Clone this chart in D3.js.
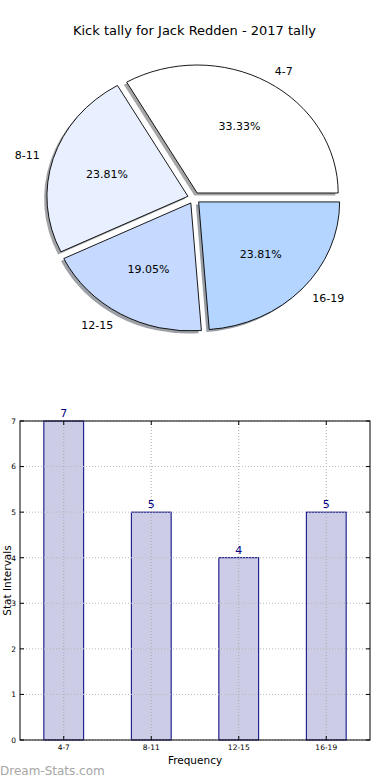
<!DOCTYPE html>
<html><head><meta charset="utf-8">
<script src="https://cdn.jsdelivr.net/npm/d3@7"></script>
<style>body{margin:0;background:#fff}svg{display:block}text{font-family:"DejaVu Sans",sans-serif}</style>
</head><body><svg id="c" width="390" height="780"></svg>
<script>
const categories = ["4-7", "8-11", "12-15", "16-19"];
const values = [7, 5, 4, 5];
const pieColors = ["#ffffff", "#e8f0ff", "#c6d9ff", "#b3d5ff"];
const yTicks = [0, 1, 2, 3, 4, 5, 6, 7];
const title = "Kick tally for Jack Redden - 2017 tally";

const svg = d3.select("#c");
svg.append("rect").attr("width", 390).attr("height", 780).attr("fill", "#fff");

svg.append("text").attr("x", 194.5).attr("y", 35).attr("text-anchor", "middle")
  .attr("font-size", 13).attr("fill", "#000").text(title);

// ---------- Pie ----------
const cx = 194, cy = 198, rx = 141, ry = 128, explode = 0.045;
const total = d3.sum(values);
const pie = d3.pie().sort(null).startAngle(Math.PI / 2).endAngle(Math.PI / 2 - 2 * Math.PI);
const arcs = pie(values);
const arcGen = d3.arc().innerRadius(0).outerRadius(1);

function off(a, f) { return [Math.sin(a) * rx * f, -Math.cos(a) * ry * f]; }

const pg = svg.append("g");
arcs.forEach((d, i) => {
  const m = (d.startAngle + d.endAngle) / 2;
  const [ox, oy] = off(m, explode);
  const c = d3.rgb(pieColors[i]);
  pg.append("path").attr("d", arcGen(d))
    .attr("transform", `translate(${cx + ox - 0.02 * rx},${cy + oy + 0.02 * ry}) scale(${rx},${ry})`)
    .attr("fill", d3.rgb(c.r * 0.3, c.g * 0.3, c.b * 0.3)).attr("fill-opacity", 0.5);
});
arcs.forEach((d, i) => {
  const m = (d.startAngle + d.endAngle) / 2;
  const [ox, oy] = off(m, explode);
  pg.append("path").attr("d", arcGen(d))
    .attr("transform", `translate(${cx + ox},${cy + oy}) scale(${rx},${ry})`)
    .attr("fill", pieColors[i]).attr("stroke", "#000").attr("stroke-width", 0.9)
    .attr("vector-effect", "non-scaling-stroke");
});
arcs.forEach((d, i) => {
  const m = (d.startAngle + d.endAngle) / 2;
  const [ox, oy] = off(m, explode);
  const x0 = cx + ox, y0 = cy + oy;
  const lx = x0 + Math.sin(m) * rx * 1.1, ly = y0 - Math.cos(m) * ry * 1.1;
  pg.append("text").attr("x", lx).attr("y", ly).attr("dy", "0.35em")
    .attr("text-anchor", Math.sin(m) > 0 ? "start" : "end")
    .attr("font-size", 11).attr("fill", "#000").text(categories[i]);
  const px = x0 + Math.sin(m) * rx * 0.6, py = y0 - Math.cos(m) * ry * 0.6;
  pg.append("text").attr("x", px).attr("y", py).attr("dy", "0.35em")
    .attr("text-anchor", "middle").attr("font-size", 11).attr("fill", "#000")
    .text((values[i] / total * 100).toFixed(2) + "%");
});

// ---------- Bar ----------
const L = 20, R = 370, T = 421, B = 740;
const x = d3.scaleBand().domain(categories).range([L, R]).paddingInner(0).paddingOuter(0);
const y = d3.scaleLinear().domain([0, 7]).range([B, T]);
const bw = x.bandwidth() * 0.455;
const bg = svg.append("g");

// bars
bg.selectAll(".bar").data(values).join("rect")
  .attr("x", (d, i) => x(categories[i]) + x.bandwidth() / 2 - bw / 2)
  .attr("y", d => y(d)).attr("width", bw).attr("height", d => B - y(d))
  .attr("fill", "#ccccE6").attr("stroke", "#000080").attr("stroke-width", 1);

// grid (on top, dotted)
bg.selectAll(".vg").data(categories).join("line")
  .attr("x1", d => x(d) + x.bandwidth() / 2).attr("x2", d => x(d) + x.bandwidth() / 2)
  .attr("y1", T).attr("y2", B)
  .attr("stroke", "#a8a8a8").attr("stroke-width", 1).attr("stroke-dasharray", "1,2");
bg.selectAll(".hg").data(yTicks).join("line")
  .attr("x1", L).attr("x2", R).attr("y1", d => y(d)).attr("y2", d => y(d))
  .attr("stroke", "#b8b8b8").attr("stroke-width", 1).attr("stroke-dasharray", "1,2");

// value labels
bg.selectAll(".vl").data(values).join("text")
  .attr("x", (d, i) => x(categories[i]) + x.bandwidth() / 2).attr("y", d => y(d) - 4)
  .attr("text-anchor", "middle").attr("font-size", 11).attr("fill", "#000080").text(d => d);

// frame
bg.append("rect").attr("x", L).attr("y", T).attr("width", R - L).attr("height", B - T)
  .attr("fill", "none").attr("stroke", "#000").attr("stroke-width", 1);

// axes
const ya = d3.axisLeft(y).tickValues(yTicks).tickSize(0).tickPadding(4).tickFormat(d3.format("d"));
const yg = bg.append("g").attr("transform", `translate(${L},0)`).call(ya);
yg.select(".domain").remove();
yg.selectAll("text").attr("font-size", 7.5).attr("font-family", "DejaVu Sans");
const xa = d3.axisBottom(x).tickSize(0).tickPadding(5);
const xg = bg.append("g").attr("transform", `translate(0,${B})`).call(xa);
xg.select(".domain").remove();
xg.selectAll("text").attr("font-size", 7.5).attr("font-family", "DejaVu Sans");

// inward ticks
yTicks.forEach(t => {
  bg.append("line").attr("x1", L).attr("x2", L + 4).attr("y1", y(t)).attr("y2", y(t)).attr("stroke", "#000");
  bg.append("line").attr("x1", R - 4).attr("x2", R).attr("y1", y(t)).attr("y2", y(t)).attr("stroke", "#000");
});
categories.forEach(c => {
  const cxp = x(c) + x.bandwidth() / 2;
  bg.append("line").attr("x1", cxp).attr("x2", cxp).attr("y1", B).attr("y2", B - 4).attr("stroke", "#000");
  bg.append("line").attr("x1", cxp).attr("x2", cxp).attr("y1", T).attr("y2", T + 4).attr("stroke", "#000");
});

svg.append("text").attr("x", (L + R) / 2).attr("y", 764).attr("text-anchor", "middle")
  .attr("font-size", 10.5).attr("fill", "#000").text("Frequency");
svg.append("text").attr("transform", `translate(10.5,${(T + B) / 2}) rotate(-90)`)
  .attr("text-anchor", "middle").attr("font-size", 10.5).attr("fill", "#000").text("Stat Intervals");

svg.append("text").attr("x", 0).attr("y", 775).attr("font-size", 12)
  .attr("fill", "#a6a6a6").attr("font-family", "DejaVu Sans").text("Dream-Stats.com");
</script></body></html>
